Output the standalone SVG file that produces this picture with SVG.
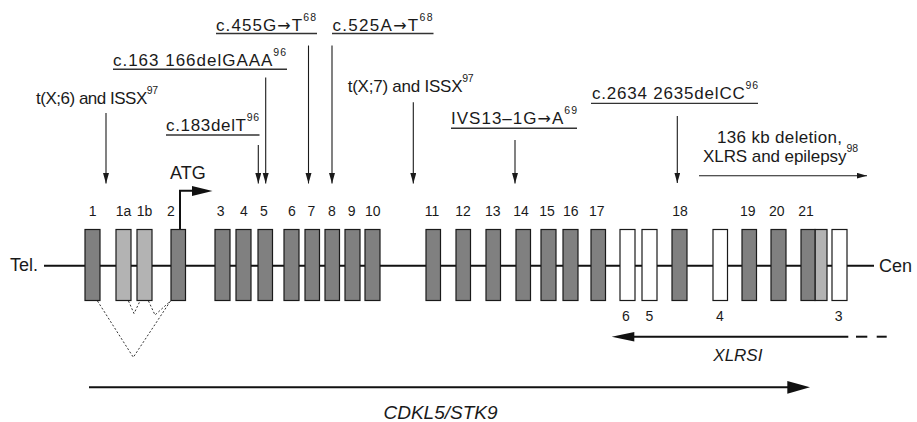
<svg xmlns="http://www.w3.org/2000/svg" width="917" height="422" viewBox="0 0 917 422">
<defs>
<style>
text{font-family:"Liberation Sans",Arial,sans-serif;fill:#1a1a1a}
.lbl{font-size:17px}
.sup{font-size:10.5px}
.ar{font-family:"DejaVu Sans",sans-serif;font-size:16px}
.num{font-size:14px;text-anchor:middle}
.big{font-size:18px}
.it{font-style:italic}
.ex{fill:#808080;stroke:#1a1a1a;stroke-width:1.2}
.lt{fill:#b3b3b3;stroke:#1a1a1a;stroke-width:1.2}
.wh{fill:#ffffff;stroke:#1a1a1a;stroke-width:1.2}
.ul{stroke:#333;stroke-width:1.4;fill:none}
.arr{stroke:#1a1a1a;stroke-width:1.1;fill:none;marker-end:url(#ah)}
.thick{stroke:#111;stroke-width:2;fill:none}
.dash{stroke:#333;stroke-width:1;fill:none;stroke-dasharray:2 2}
</style>
<marker id="ah" markerUnits="userSpaceOnUse" markerWidth="11" markerHeight="7" refX="10.5" refY="3" orient="auto">
<path d="M0,0 L10.5,3 L0,6 z" fill="#1a1a1a"/>
</marker>
</defs>
<rect width="917" height="422" fill="#fff"/>

<g id="backbone">
<line class="thick" x1="44" y1="265.7" x2="874" y2="265.7"/>
<text class="big" x="10" y="271">Tel.</text>
<text class="big" x="879" y="271.5">Cen</text>
</g>

<g id="connectors">
<line class="arr" x1="308.5" y1="45.5" x2="308.5" y2="183.5"/>
<line class="arr" x1="332" y1="45.5" x2="332" y2="183.5"/>
<line class="arr" x1="265.7" y1="77.5" x2="265.7" y2="183.5"/>
<line class="arr" x1="106" y1="113" x2="106" y2="183.5"/>
<line class="arr" x1="258.3" y1="145" x2="258.3" y2="183.5"/>
<line class="arr" x1="413.3" y1="102.3" x2="413.3" y2="183.5"/>
<line class="arr" x1="515" y1="140" x2="515" y2="183.5"/>
<line class="arr" x1="677.3" y1="116" x2="677.3" y2="183"/>
<line class="arr" x1="699" y1="175.7" x2="867" y2="175.7"/>
<path class="thick" d="M180,229 V190.8 H193"/>
<path d="M192,186 L212.5,191 L192,196 z" fill="#111"/>
<polyline class="dash" points="97.5,301 133.3,357.3 170.5,301"/>
<polyline class="dash" points="128.5,301 134,313.5 140,301"/>
<polyline class="dash" points="148.5,301 155,315 170.5,301"/>
<line class="thick" x1="633" y1="336.7" x2="848.3" y2="336.7"/>
<path d="M611.7,336.7 L634.3,331.9 L634.3,341.5 z" fill="#111"/>
<line class="thick" x1="856" y1="336.7" x2="867.3" y2="336.7"/>
<line class="thick" x1="876.7" y1="336.7" x2="886.7" y2="336.7"/>
<line class="thick" x1="89" y1="387.3" x2="789" y2="387.3"/>
<path d="M810,387.3 L787.3,381 L787.3,393.7 z" fill="#111"/>
</g>

<g id="exons">
<g id="ex1"><rect class="ex" x="85" y="229.5" width="15" height="71"/><text class="num" x="92.7" y="215.7">1</text></g>
<g id="ex1a"><rect class="lt" x="116" y="229.5" width="15" height="71"/><text class="num" x="123.5" y="215.7">1a</text></g>
<g id="ex1b"><rect class="lt" x="137" y="229.5" width="15" height="71"/><text class="num" x="144.5" y="215.7">1b</text></g>
<g id="ex2"><rect class="ex" x="171" y="229.5" width="14.5" height="71"/><text class="num" x="171" y="215.7">2</text></g>
<g id="ex3"><rect class="ex" x="215" y="229.5" width="15" height="71"/><text class="num" x="220.7" y="215.7">3</text></g>
<g id="ex4"><rect class="ex" x="236" y="229.5" width="15" height="71"/><text class="num" x="244" y="215.7">4</text></g>
<g id="ex5"><rect class="ex" x="258" y="229.5" width="14.5" height="71"/><text class="num" x="264" y="215.7">5</text></g>
<g id="ex6"><rect class="ex" x="284" y="229.5" width="15" height="71"/><text class="num" x="292" y="215.7">6</text></g>
<g id="ex7"><rect class="ex" x="305" y="229.5" width="14.5" height="71"/><text class="num" x="311.5" y="215.7">7</text></g>
<g id="ex8"><rect class="ex" x="325" y="229.5" width="14.5" height="71"/><text class="num" x="332" y="215.7">8</text></g>
<g id="ex9"><rect class="ex" x="345" y="229.5" width="15" height="71"/><text class="num" x="351.7" y="215.7">9</text></g>
<g id="ex10"><rect class="ex" x="365" y="229.5" width="15" height="71"/><text class="num" x="372.7" y="215.7">10</text></g>
<g id="ex11"><rect class="ex" x="426" y="229.5" width="14.5" height="71"/><text class="num" x="432" y="215.7">11</text></g>
<g id="ex12"><rect class="ex" x="456" y="229.5" width="14.5" height="71"/><text class="num" x="463" y="215.7">12</text></g>
<g id="ex13"><rect class="ex" x="486" y="229.5" width="14.5" height="71"/><text class="num" x="492.7" y="215.7">13</text></g>
<g id="ex14"><rect class="ex" x="516" y="229.5" width="14.5" height="71"/><text class="num" x="521" y="215.7">14</text></g>
<g id="ex15"><rect class="ex" x="541" y="229.5" width="15" height="71"/><text class="num" x="547" y="215.7">15</text></g>
<g id="ex16"><rect class="ex" x="563" y="229.5" width="15" height="71"/><text class="num" x="570.7" y="215.7">16</text></g>
<g id="ex17"><rect class="ex" x="591" y="229.5" width="14.5" height="71"/><text class="num" x="596.7" y="215.7">17</text></g>
<g id="xl6"><rect class="wh" x="620" y="229.5" width="15" height="71"/><text class="num" x="626" y="321">6</text></g>
<g id="xl5"><rect class="wh" x="642" y="229.5" width="15" height="71"/><text class="num" x="649.3" y="321">5</text></g>
<g id="ex18"><rect class="ex" x="672" y="229.5" width="15" height="71"/><text class="num" x="680" y="215.7">18</text></g>
<g id="xl4"><rect class="wh" x="713" y="229.5" width="14.5" height="71"/><text class="num" x="720" y="321">4</text></g>
<g id="ex19"><rect class="ex" x="742" y="229.5" width="14.5" height="71"/><text class="num" x="747.7" y="215.7">19</text></g>
<g id="ex20"><rect class="ex" x="771" y="229.5" width="15" height="71"/><text class="num" x="776.7" y="215.7">20</text></g>
<g id="ex21"><rect class="lt" x="815" y="229.5" width="12" height="71"/><rect class="ex" x="801" y="229.5" width="14" height="71"/><text class="num" x="806" y="215.7">21</text></g>
<g id="xl3"><rect class="wh" x="832" y="229.5" width="15" height="71"/><text class="num" x="838.7" y="321">3</text></g>
</g>

<g id="atg"><text class="big" x="170" y="179.3">ATG</text></g>

<g id="m455"><text class="lbl" x="216" y="30.5" textLength="100">c.455G<tspan class="ar">→</tspan>T<tspan class="sup" dy="-10">68</tspan></text><line class="ul" x1="216" y1="33.5" x2="317" y2="33.5"/></g>
<g id="m525"><text class="lbl" x="332.5" y="30.5" textLength="100">c.525A<tspan class="ar">→</tspan>T<tspan class="sup" dy="-10">68</tspan></text><line class="ul" x1="332" y1="33.5" x2="433.5" y2="33.5"/></g>
<g id="m163"><text class="lbl" x="113" y="65.6" textLength="173">c.163 166delGAAA<tspan class="sup" dy="-10">96</tspan></text><line class="ul" x1="113" y1="69.3" x2="287" y2="69.3"/></g>
<g id="tx6"><text class="lbl" x="36" y="104.3" textLength="122">t(X;6) and ISSX<tspan class="sup" dy="-10">97</tspan></text></g>
<g id="m183"><text class="lbl" x="166" y="131" textLength="93">c.183delT<tspan class="sup" dy="-10">96</tspan></text><line class="ul" x1="166" y1="135" x2="259.5" y2="135"/></g>
<g id="tx7"><text class="lbl" x="347.7" y="91.7" textLength="126">t(X;7) and ISSX<tspan class="sup" dy="-10">97</tspan></text></g>
<g id="ivs13"><text class="lbl" x="451" y="124.3" textLength="126">IVS13–1G<tspan class="ar">→</tspan>A<tspan class="sup" dy="-10">69</tspan></text><line class="ul" x1="451" y1="128.3" x2="577" y2="128.3"/></g>
<g id="m2634"><text class="lbl" x="592" y="99.4" textLength="166">c.2634 2635delCC<tspan class="sup" dy="-10">96</tspan></text><line class="ul" x1="591" y1="103.4" x2="758" y2="103.4"/></g>
<g id="del136"><text class="lbl" x="717" y="143.3" textLength="125">136 kb deletion,</text><text class="lbl" x="703" y="161.7" textLength="155">XLRS and epilepsy<tspan class="sup" dy="-10">98</tspan></text></g>

<g id="xlrs1"><text class="lbl it" x="713.3" y="360.7">XLRSI</text></g>
<g id="cdkl5"><text class="it" style="font-size:19px" x="383.5" y="419">CDKL5/STK9</text></g>
</svg>
